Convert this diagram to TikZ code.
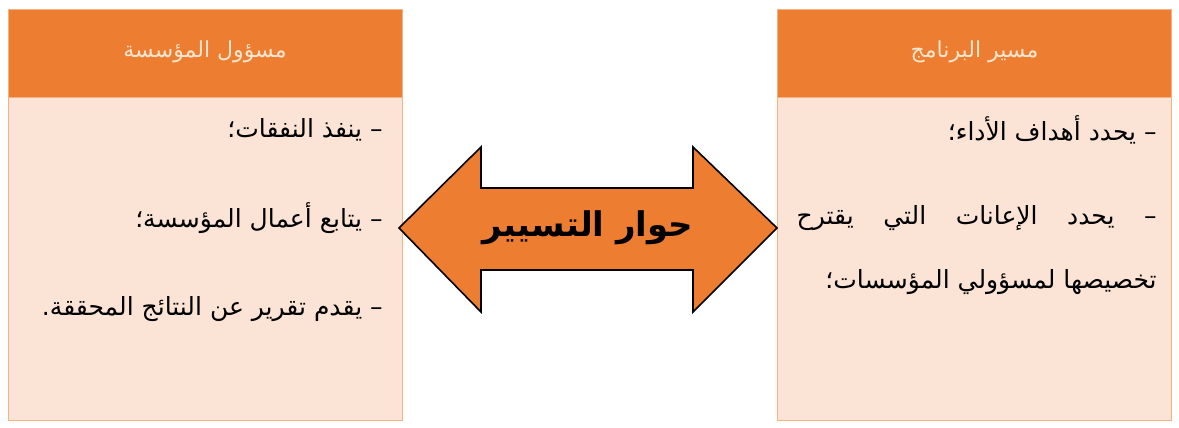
\documentclass[tikz,border=0pt]{standalone}
\usepackage{fontspec}
\usepackage{tikz}
\usetikzlibrary{positioning}
\TeXXeTstate=1
\newfontfamily\arabicfont[Script=Arabic]{DejaVu Sans}
\definecolor{headorange}{HTML}{ED7D31}
\definecolor{bodypeach}{HTML}{FBE4D5}
\definecolor{edgeorange}{HTML}{F4B183}
\definecolor{headtext}{HTML}{FCE6CF}
\tikzset{
  headbox/.style={draw=edgeorange, fill=headorange, minimum width=197pt,
    minimum height=44pt, inner sep=0pt, text=headtext,
    font=\arabicfont\fontsize{11}{13}\selectfont},
  bodybox/.style={draw=edgeorange, fill=bodypeach, minimum width=197pt,
    minimum height=161.5pt, inner sep=0pt},
  itemtext/.style={anchor=east, inner sep=0pt,
    font=\arabicfont\fontsize{12.5}{15}\selectfont},
  dualarrow/.style={draw=black, fill=headorange, line width=0.8pt, line join=miter},
  dialogtext/.style={inner sep=0pt, font=\arabicfont\bfseries\fontsize{17}{20}\selectfont}
}

\begin{document}
\begin{tikzpicture}[x=0.5pt,y=0.5pt]
  \useasboundingbox (0,0) rectangle (1179,428);
  % left panel
  \node[headbox] (headL) at (205,375) {\raisebox{4pt}{\beginR مسؤول المؤسسة\endR}};
  \node[bodybox, below=0pt of headL] (bodyL) {};
  \node[itemtext] (itemLa) at (383,298) {\beginR – ينفذ النفقات؛\endR};
  \node[itemtext] (itemLb) at (383,210) {\beginR – يتابع أعمال المؤسسة؛\endR};
  \node[itemtext] (itemLc) at (383,119) {\beginR – يقدم تقرير عن النتائج المحققة.\endR};
  % right panel
  \node[headbox] (headR) at (974.5,375) {\raisebox{4pt}{\beginR مسير البرنامج\endR}};
  \node[bodybox, below=0pt of headR] (bodyR) {};
  \node[itemtext] (itemRa) at (1157,298) {\beginR – يحدد أهداف الأداء؛\endR};
  \node[itemtext] (itemRb) at (1157,210)
    {\hbox to 180pt{\beginR –\hfil يحدد\hfil الإعانات\hfil التي\hfil يقترح\endR}};
  \node[itemtext] (itemRc) at (1157,146) {\beginR تخصيصها لمسؤولي المؤسسات؛\endR};
  % double arrow
  \draw[dualarrow] (399,200) -- (481,281) -- (481,240) -- (693,240) -- (693,281)
    -- (777,200) -- (693,116) -- (693,158) -- (481,158) -- (481,116) -- cycle;
  \node[dialogtext] (dialog) at (588,200) {\beginR حوار التسيير\endR};
\end{tikzpicture}
\end{document}
